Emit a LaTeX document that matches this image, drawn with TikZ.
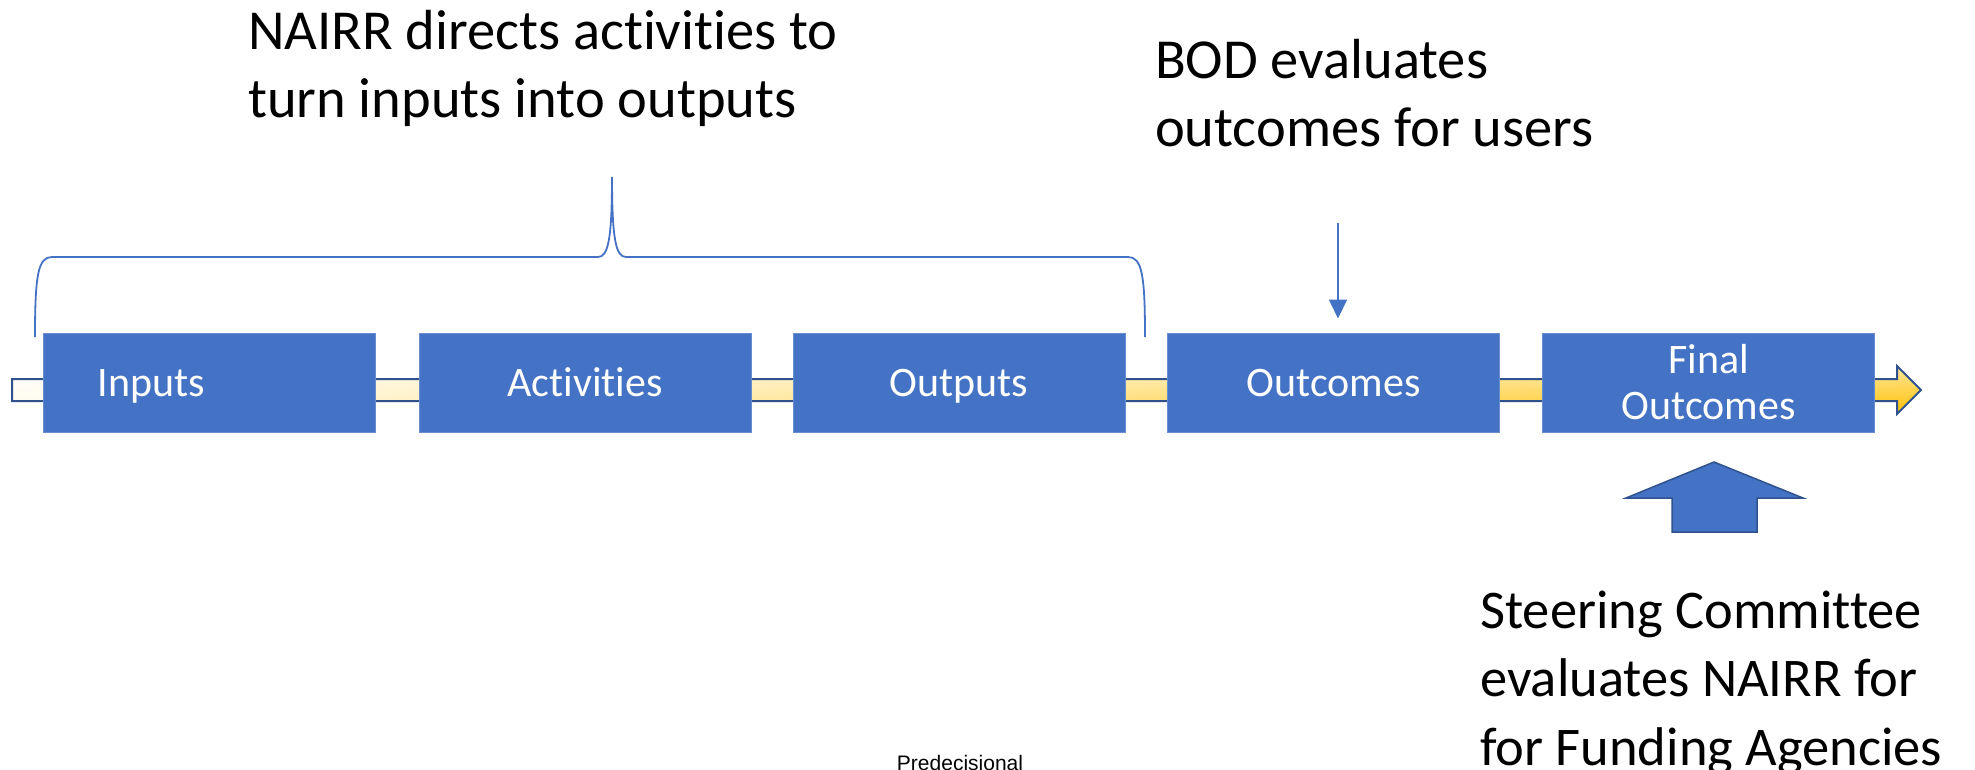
\documentclass[tikz,border=0pt]{standalone}
\usepackage{fontspec}
\setmainfont{Carlito}[Ligatures=NoCommon]
\newfontfamily\arialfont{Liberation Sans}
\usetikzlibrary{arrows.meta,shadings}
\definecolor{boxblue}{HTML}{4472C4}
\definecolor{darkblue}{HTML}{2F528F}
\definecolor{gold}{HTML}{FFC000}
\definecolor{paleyellow}{HTML}{FFE699}
\begin{document}
\begin{tikzpicture}[x=1pt,y=-1pt,
  box/.style={draw=boxblue!80!white, line width=1pt, fill=boxblue, minimum width=332pt,
    minimum height=99pt, inner sep=0pt, text=white, font=\fontsize{42}{46}\selectfont,
    text height=27pt, text depth=0pt},
  bigtext/.style={inner sep=0pt, align=left, anchor=base west, font=\fontsize{56.5}{68.5}\selectfont},
  bluearrow/.style={draw=boxblue, line width=2pt},
  bigarrow/.style={fill=boxblue, draw=darkblue, line width=1.5pt, line join=miter},
  barstyle/.style={draw=darkblue, line width=2pt, line join=miter}
]
\useasboundingbox (0,0) rectangle (1975,770);

% timeline bar arrow
\shade[upper left=white, lower left=white!92!gold, upper right=paleyellow, lower right=gold]
  (12,379) -- (1897,379) -- (1897,366) -- (1921,390) -- (1897,414) -- (1897,401) -- (12,401) -- cycle;
\draw[barstyle]
  (12,379) -- (1897,379) -- (1897,366) -- (1921,390) -- (1897,414) -- (1897,401) -- (12,401) -- cycle;

% boxes
\node[box, text width=224pt, align=left] (inputs) at (209.5,382.5) {Inputs};
\node[box] (activities) at (585,382.5) {Activities};
\node[box] (outputs) at (959,382.5) {Outputs};
\node[box] (outcomes) at (1333.5,382.5) {Outcomes};
\node[box, align=center, text height=73pt] (final) at (1708.5,382.5) {Final\\Outcomes};

% texts (anchored at the baseline of their last line)
\node[bigtext] (nairr) at (248,118) {NAIRR directs activities to\\turn inputs into outputs};
\node[bigtext] (bod) at (1155,147) {BOD evaluates\\outcomes for users};
\node[bigtext, font=\fontsize{54.5}{68.5}\selectfont] (steer) at (1480,765) {Steering Committee\\evaluates NAIRR for\\for Funding Agencies};
\node[font=\arialfont\fontsize{21}{25}\selectfont, anchor=base, inner sep=0pt] (pre) at (960,770) {Predecisional};

% BOD arrow
\coordinate (bodtop) at (1338,223);
\draw[bluearrow, -{Triangle[width=18pt,length=19pt]}, shorten >=14pt] (bodtop) -- (bodtop |- outcomes.north);

% brace
\draw[bluearrow, line width=1.8pt]
  (35,337) .. controls (35,275) and (38,257) .. (52,257) -- (598,257)
  .. controls (608,257) and (612,240) .. (612,177)
  .. controls (612,240) and (616,257) .. (626,257) -- (1128,257)
  .. controls (1142,257) and (1145,275) .. (1145,337);

% steering committee up arrow
\draw[bigarrow] (1714,462) -- (1803,498) -- (1757,498) -- (1757,532) -- (1672,532) -- (1672,498) -- (1626,498) -- cycle;
\end{tikzpicture}
\end{document}
